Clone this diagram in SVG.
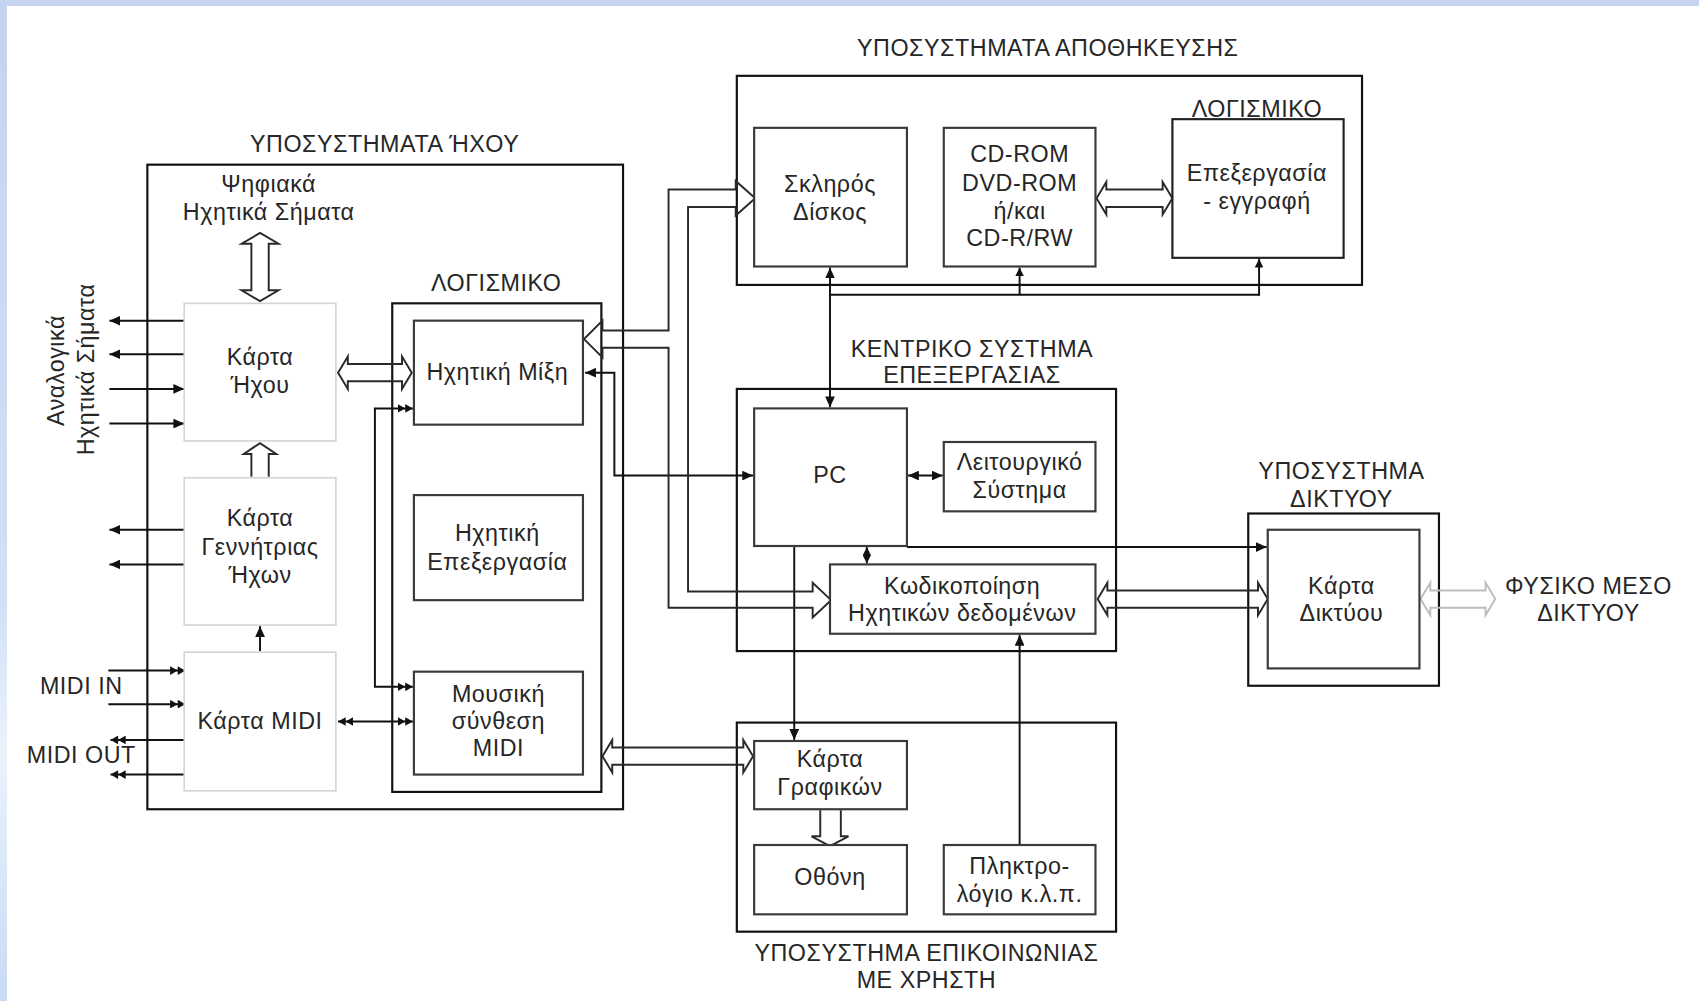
<svg xmlns="http://www.w3.org/2000/svg" width="1699" height="1001" viewBox="0 0 1699 1001">
<defs>
<linearGradient id="lstrip" x1="0" y1="0" x2="0" y2="1">
<stop offset="0" stop-color="#c4d3f0"/><stop offset="0.6" stop-color="#d2e0f6"/><stop offset="0.75" stop-color="#eaf3fc"/><stop offset="1" stop-color="#c8daf4"/>
</linearGradient>
<marker id="ah" viewBox="0 0 10 9" refX="10" refY="4.5" markerWidth="10" markerHeight="9" markerUnits="userSpaceOnUse" orient="auto-start-reverse"><path d="M0,0 L10,4.5 L0,9 z" fill="#111"/></marker>
<marker id="sah" viewBox="0 0 8 8" refX="8" refY="4" markerWidth="8" markerHeight="8" markerUnits="userSpaceOnUse" orient="auto-start-reverse"><path d="M0,0 L8,4 L0,8 z" fill="#111"/></marker>
<marker id="dah" viewBox="0 0 14 8" refX="14" refY="4" markerWidth="14" markerHeight="8" markerUnits="userSpaceOnUse" orient="auto-start-reverse"><path d="M0,0 L7,4 L0,8 z M7,0 L14,4 L7,8 z" fill="#111"/></marker>
<style>
.t{font-family:"Liberation Sans",Arial,sans-serif;font-size:21.5px;fill:#262626;text-anchor:middle;letter-spacing:0.5px}
.outer{fill:none;stroke:#111;stroke-width:2}
.inner{fill:#fff;stroke:#3a3a3a;stroke-width:2}
.light{fill:#fff;stroke:#d4d4d4;stroke-width:1.5}
.ln{fill:none;stroke:#111;stroke-width:1.8}
.hol{fill:none;stroke:#2a2a2a;stroke-width:1.8;stroke-linejoin:miter}
.holl{fill:none;stroke:#bdbdbd;stroke-width:1.8}
</style>
</defs>
<rect x="0" y="0" width="1699" height="1001" fill="#fff"/>
<rect x="0" y="0" width="1699" height="6" fill="#c6d4f0"/>
<rect x="0" y="0" width="7" height="1001" fill="url(#lstrip)"/>
<g transform="scale(1.08355,1.08333)">

<g id="sound-subsystem">
<rect class="outer" x="136" y="152" width="439" height="595"/>
<text class="t" x="355" y="140">ΥΠΟΣΥΣΤΗΜΑΤΑ ΉΧΟΥ</text>
</g>
<g id="sound-software">
<rect class="outer" x="362" y="280" width="193" height="451"/>
<text class="t" x="458" y="269">ΛΟΓΙΣΜΙΚΟ</text>
</g>
<g id="storage-subsystem">
<rect class="outer" x="680" y="70" width="577" height="193"/>
<text class="t" x="967" y="52">ΥΠΟΣΥΣΤΗΜΑΤΑ ΑΠΟΘΗΚΕΥΣΗΣ</text>
</g>
<g id="central-system">
<rect class="outer" x="680" y="359" width="350" height="242"/>
<text class="t" x="897" y="330">ΚΕΝΤΡΙΚΟ ΣΥΣΤΗΜΑ</text>
<text class="t" x="897" y="354">ΕΠΕΞΕΡΓΑΣΙΑΣ</text>
</g>
<g id="network-subsystem">
<rect class="outer" x="1152" y="474" width="176" height="159"/>
<text class="t" x="1238" y="442">ΥΠΟΣΥΣΤΗΜΑ</text>
<text class="t" x="1238" y="468">ΔΙΚΤΥΟΥ</text>
</g>
<g id="user-comm-subsystem">
<rect class="outer" x="680" y="667" width="350" height="193"/>
<text class="t" x="855" y="887">ΥΠΟΣΥΣΤΗΜΑ ΕΠΙΚΟΙΝΩΝΙΑΣ</text>
<text class="t" x="855" y="912">ΜΕ ΧΡΗΣΤΗ</text>
</g>
<g id="labels">
<text class="t" x="248" y="177">Ψηφιακά</text>
<text class="t" x="248" y="203">Ηχητικά Σήματα</text>
<text class="t" transform="translate(59,342) rotate(-90)">Αναλογικά</text>
<text class="t" transform="translate(87,341) rotate(-90)">Ηχητικά Σήματα</text>
<text class="t" x="75" y="641">MIDI IN</text>
<text class="t" x="75" y="704">MIDI OUT</text>
<text class="t" x="1466" y="548">ΦΥΣΙΚΟ ΜΕΣΟ</text>
<text class="t" x="1466" y="573">ΔΙΚΤΥΟΥ</text>
</g>

<g id="connectors">
<line class="ln" x1="170" y1="296" x2="101" y2="296" marker-end="url(#ah)"/>
<line class="ln" x1="170" y1="327" x2="101" y2="327" marker-end="url(#ah)"/>
<line class="ln" x1="101" y1="359" x2="170" y2="359" marker-end="url(#ah)"/>
<line class="ln" x1="101" y1="391" x2="170" y2="391" marker-end="url(#ah)"/>
<line class="ln" x1="170" y1="489" x2="101" y2="489" marker-end="url(#ah)"/>
<line class="ln" x1="170" y1="521" x2="101" y2="521" marker-end="url(#ah)"/>
<line class="ln" x1="100" y1="619" x2="171" y2="619" marker-end="url(#dah)"/>
<line class="ln" x1="100" y1="650" x2="171" y2="650" marker-end="url(#dah)"/>
<line class="ln" x1="171" y1="683" x2="102" y2="683" marker-end="url(#dah)"/>
<line class="ln" x1="171" y1="715" x2="102" y2="715" marker-end="url(#dah)"/>
<line class="ln" x1="312" y1="666" x2="381" y2="666" marker-start="url(#dah)" marker-end="url(#dah)"/>
<line class="ln" x1="240" y1="601" x2="240" y2="578" marker-end="url(#ah)"/>
<path class="ln" d="M381,377 L346,377 L346,634 L381,634" marker-start="url(#dah)" marker-end="url(#dah)"/>
<path class="ln" d="M695,439 L567,439 L567,344 L540,344" marker-start="url(#ah)" marker-end="url(#ah)"/>
<line class="ln" x1="766" y1="247" x2="766" y2="376" marker-start="url(#ah)" marker-end="url(#ah)"/>
<line class="ln" x1="766" y1="272" x2="1162" y2="272"/>
<line class="ln" x1="941" y1="272" x2="941" y2="247" marker-end="url(#sah)"/>
<line class="ln" x1="1162" y1="273" x2="1162" y2="239" marker-end="url(#sah)"/>
<line class="ln" x1="838" y1="439" x2="870" y2="439" marker-start="url(#ah)" marker-end="url(#ah)"/>
<line class="ln" x1="800" y1="505" x2="800" y2="520" marker-start="url(#sah)" marker-end="url(#sah)"/>
<line class="ln" x1="837" y1="505" x2="1169" y2="505" marker-end="url(#ah)"/>
<line class="ln" x1="733" y1="505" x2="733" y2="683" marker-end="url(#ah)"/>
<line class="ln" x1="941" y1="780" x2="941" y2="586" marker-end="url(#ah)"/>
<path class="hol" d="M240,215 L257,225 L248,225 L248,268 L257,268 L240,278 L223,268 L232,268 L232,225 L223,225 Z"/>
<path class="hol" d="M232,440 L232,419 L225,419 L240,409 L255,419 L248,419 L248,440"/>
<path class="hol" d="M312,344 L321,329 L321,336 L371,336 L371,329 L380,344 L371,359 L371,352 L321,352 L321,359 Z"/>
<path class="hol" d="M1012,183 L1021,168 L1021,175 L1073,175 L1073,168 L1082,183 L1073,198 L1073,191 L1021,191 L1021,198 Z"/>
<path class="hol" d="M1013,553 L1022,538 L1022,545 L1161,545 L1161,538 L1170,553 L1161,568 L1161,561 L1022,561 L1022,568 Z"/>
<path class="holl" d="M1311,553 L1320,538 L1320,545 L1371,545 L1371,538 L1380,553 L1371,568 L1371,561 L1320,561 L1320,568 Z"/>
<path class="hol" d="M556,698 L565,683 L565,690 L686,690 L686,683 L695,698 L686,713 L686,706 L565,706 L565,713 Z"/>
<path class="hol" d="M757,748 L757,772 L749,772 L766,781 L783,772 L776,772 L776,748"/>
<path class="hol" d="M679,175 L617,175 L617,305 L556,305 L556,296 L539,313 L556,330 L556,321 L617,321 L617,561 L750,561 L750,570 L767,554 L750,538 L750,546 L635,546 L635,191 L679,191 L679,199 L697,183 L679,167 Z"/>
</g>

<g id="karta-ixou"><rect class="light" x="170" y="280" width="140" height="127"/><text class="t" x="240" y="337">Κάρτα</text><text class="t" x="240" y="363">Ήχου</text></g>
<g id="karta-genn"><rect class="light" x="170" y="441" width="140" height="136"/><text class="t" x="240" y="486">Κάρτα</text><text class="t" x="240" y="512">Γεννήτριας</text><text class="t" x="240" y="538">Ήχων</text></g>
<g id="karta-midi"><rect class="light" x="170" y="602" width="140" height="128"/><text class="t" x="240" y="673">Κάρτα MIDI</text></g>
<g id="mixi"><rect class="inner" x="382" y="296" width="156" height="96"/><text class="t" x="459" y="351">Ηχητική Μίξη</text></g>
<g id="epexergasia-ixou"><rect class="inner" x="382" y="457" width="156" height="97"/><text class="t" x="459" y="499">Ηχητική</text><text class="t" x="459" y="526">Επεξεργασία</text></g>
<g id="mousiki"><rect class="inner" x="382" y="620" width="156" height="95"/><text class="t" x="460" y="648">Μουσική</text><text class="t" x="460" y="673">σύνθεση</text><text class="t" x="460" y="698">MIDI</text></g>
<g id="hdd"><rect class="inner" x="696" y="118" width="141" height="128"/><text class="t" x="766" y="177">Σκληρός</text><text class="t" x="766" y="203">Δίσκος</text></g>
<g id="cdrom"><rect class="inner" x="871" y="118" width="140" height="128"/><text class="t" x="941" y="150">CD-ROM</text><text class="t" x="941" y="176">DVD-ROM</text><text class="t" x="941" y="202">ή/και</text><text class="t" x="941" y="227">CD-R/RW</text></g>
<g id="storage-software"><rect class="inner" x="1082" y="110" width="158" height="128" style="stroke:#222"/><text class="t" x="1160" y="108">ΛΟΓΙΣΜΙΚΟ</text><text class="t" x="1160" y="167">Επεξεργασία</text><text class="t" x="1160" y="193">- εγγραφή</text></g>
<g id="pc"><rect class="inner" x="696" y="377" width="141" height="127"/><text class="t" x="766" y="446">PC</text></g>
<g id="os"><rect class="inner" x="871" y="408" width="140" height="64"/><text class="t" x="941" y="434">Λειτουργικό</text><text class="t" x="941" y="460">Σύστημα</text></g>
<g id="coding"><rect class="inner" x="766" y="521" width="245" height="64"/><text class="t" x="888" y="548">Κωδικοποίηση</text><text class="t" x="888" y="573">Ηχητικών δεδομένων</text></g>
<g id="network-card"><rect class="inner" x="1170" y="489" width="140" height="128"/><text class="t" x="1238" y="548">Κάρτα</text><text class="t" x="1238" y="573">Δικτύου</text></g>
<g id="graphics-card"><rect class="inner" x="696" y="684" width="141" height="63"/><text class="t" x="766" y="708">Κάρτα</text><text class="t" x="766" y="734">Γραφικών</text></g>
<g id="screen"><rect class="inner" x="696" y="780" width="141" height="64"/><text class="t" x="766" y="817">Οθόνη</text></g>
<g id="keyboard"><rect class="inner" x="871" y="780" width="140" height="64"/><text class="t" x="941" y="807">Πληκτρο-</text><text class="t" x="941" y="833">λόγιο κ.λ.π.</text></g>
</g>
</svg>
